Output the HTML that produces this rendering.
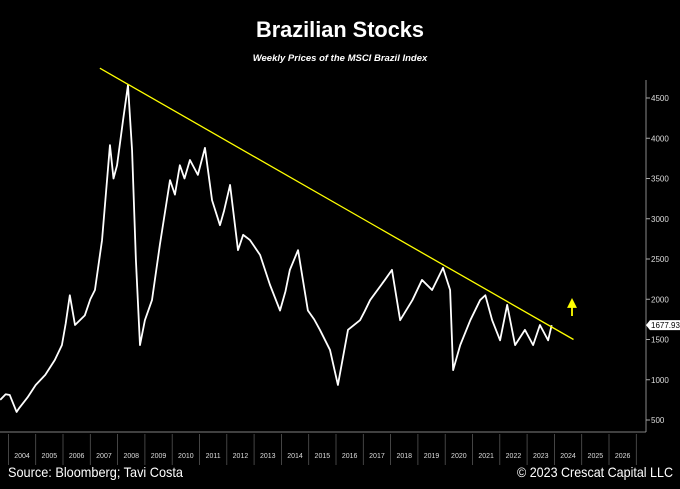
<!DOCTYPE html>
<html><head><meta charset="utf-8"><style>
html,body{margin:0;padding:0;background:#000;}
body{width:680px;height:484px;overflow:hidden;font-family:"Liberation Sans",sans-serif;}
</style></head><body>
<svg width="680" height="484" xmlns="http://www.w3.org/2000/svg">
<rect width="680" height="484" fill="#000"/>
<text x="340" y="37" fill="#fff" font-size="22" font-weight="bold" text-anchor="middle" textLength="168" lengthAdjust="spacingAndGlyphs">Brazilian Stocks</text>
<text x="340" y="61" fill="#fff" font-size="9.5" font-weight="bold" font-style="italic" text-anchor="middle">Weekly Prices of the MSCI Brazil Index</text>
<g id="axes"></g>
<g id="marks"></g>
<text x="8" y="477" fill="#fff" font-size="14" textLength="175" lengthAdjust="spacingAndGlyphs">Source: Bloomberg; Tavi Costa</text>
<text x="517" y="477" fill="#fff" font-size="14" textLength="156" lengthAdjust="spacingAndGlyphs">© 2023 Crescat Capital LLC</text>
</svg>
<script>
const times=[2003.7,2003.9,2004.05,2004.3,2004.4,2004.7,2005.0,2005.35,2005.7,2005.96,2006.1,2006.25,2006.44,2006.8,2007.0,2007.17,2007.43,2007.72,2007.85,2007.98,2008.2,2008.38,2008.53,2008.67,2008.82,2009.0,2009.26,2009.55,2009.92,2010.1,2010.28,2010.45,2010.65,2010.94,2011.2,2011.46,2011.75,2011.9,2012.12,2012.41,2012.6,2012.85,2013.22,2013.58,2013.95,2014.15,2014.31,2014.61,2014.97,2015.2,2015.41,2015.78,2016.07,2016.44,2016.88,2017.05,2017.25,2017.79,2018.05,2018.35,2018.8,2019.15,2019.52,2019.92,2020.18,2020.29,2020.55,2020.92,2021.28,2021.47,2021.72,2022.01,2022.27,2022.56,2022.92,2023.22,2023.47,2023.77,2023.9];
const values=[750,820,810,600,650,780,935,1060,1245,1430,1700,2050,1680,1800,2000,2115,2735,3915,3500,3665,4225,4660,3850,2490,1430,1740,1990,2680,3480,3300,3665,3500,3730,3545,3880,3230,2920,3100,3420,2610,2800,2735,2550,2180,1860,2100,2365,2610,1860,1750,1620,1370,935,1620,1740,1850,1990,2240,2365,1740,1990,2240,2115,2390,2115,1120,1430,1740,1990,2050,1740,1490,1930,1430,1620,1430,1680,1490,1678];
const yTicks=[500,1000,1500,2000,2500,3000,3500,4000,4500];
const years=[2004,2005,2006,2007,2008,2009,2010,2011,2012,2013,2014,2015,2016,2017,2018,2019,2020,2021,2022,2023,2024,2025,2026];
const trendStart=[2007.35,4870];
const trendEnd=[2024.7,1500];
const lastValue=1677.93;
const NS="http://www.w3.org/2000/svg";
const X=t=>8.4+(t-2004)*27.3;
const Y=v=>98+(4500-v)*0.0805;
function mk(tag,attrs,parent,text){const e=document.createElementNS(NS,tag);for(const k in attrs)e.setAttribute(k,attrs[k]);if(text!==undefined)e.textContent=text;parent.appendChild(e);return e;}
const ax=document.getElementById('axes'),mg=document.getElementById('marks');
let e=mk('line',{x1:646,y1:80,x2:646,y2:432,stroke:'#aaa','stroke-width':0.8},ax);


e=mk('line',{x1:0,y1:432,x2:646,y2:432,stroke:'#aaa','stroke-width':0.8},ax);


yTicks.forEach(v=>{
 mk('line',{x1:646,y1:Y(v),x2:650,y2:Y(v),stroke:'#aaa'},ax);
 const t=mk('text',{x:651,y:Y(v)+3,fill:'#ddd','font-size':8},ax,String(v));
 
 
});
years.forEach(y=>{
 mk('line',{x1:X(y),y1:434,x2:X(y),y2:465,stroke:'#555','stroke-width':0.8},ax);
 const t=mk('text',{x:X(y+0.5),y:458,fill:'#ddd','font-size':7,'text-anchor':'middle'},ax,String(y));
 
 
});
mk('line',{x1:X(2027),y1:434,x2:X(2027),y2:465,stroke:'#555','stroke-width':0.8},ax);
const pl=mk('polyline',{points:times.map((t,i)=>X(t)+','+Y(values[i])).join(' '),fill:'none',stroke:'#fff','stroke-width':1.8,'stroke-linejoin':'round'},mg);


const tl=mk('line',{x1:X(trendStart[0]),y1:Y(trendStart[1]),x2:X(trendEnd[0]),y2:Y(trendEnd[1]),stroke:'#ffff00','stroke-width':1.3},mg);


const ar=mk('path',{d:'M572,316 L572,304 M568.5,307 L572,300 L575.5,307 Z',stroke:'#ffff00',fill:'#ffff00','stroke-width':1.8},mg);


const ly=Y(lastValue);
const lb=mk('path',{d:`M646,${ly} L650,${ly-5} L680,${ly-5} L680,${ly+5} L650,${ly+5} Z`,fill:'#fff'},mg);


const lt=mk('text',{x:651,y:ly+3,fill:'#000','font-size':8},mg,lastValue.toFixed(2));


</script>
</body></html>
